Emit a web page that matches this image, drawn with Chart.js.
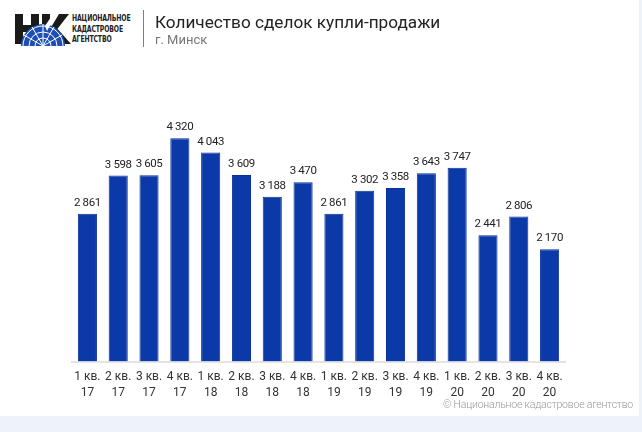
<!DOCTYPE html>
<html>
<head>
<meta charset="utf-8">
<script src="https://cdn.jsdelivr.net/npm/chart.js@4"></script>
<style>
  html, body { margin: 0; padding: 0; }
  body { width: 642px; height: 432px; background: #eef2fb; font-family: Roboto, "Noto Sans", sans-serif; position: relative; overflow: hidden; }
  #card { position: absolute; left: 0; top: 0; width: 639px; height: 416px; background: #fff; }
  #logo { position: absolute; left: 15px; top: 12px; }
  #logoText { position: absolute; left: 72px; top: 13px; font: bold 9px/10.5px "Liberation Sans Narrow", "DejaVu Sans Condensed", sans-serif; color: #222; letter-spacing: -0.2px; transform: scaleX(0.76); transform-origin: left top; }
  #sep { position: absolute; left: 143px; top: 10px; width: 1px; height: 37px; background: #5b82cf; }
  #title { position: absolute; left: 155px; top: 12px; font-size: 17.2px; color: #222; }
  #subtitle { position: absolute; left: 155px; top: 32px; font-size: 13px; color: #777; }
  #copy { position: absolute; right: 9px; top: 398px; font-size: 10.5px; font-weight: 300; color: #999; letter-spacing: -0.2px; }
  #wrap { position: absolute; left: 0; top: 0; width: 642px; height: 432px; }
</style>
</head>
<body>
<div id="card"></div>
<canvas id="logo" width="56" height="34"></canvas>
<div id="logoText">НАЦИОНАЛЬНОЕ<br>КАДАСТРОВОЕ<br>АГЕНТСТВО</div>
<div id="sep"></div>
<div id="title">Количество сделок купли-продажи</div>
<div id="subtitle">г. Минск</div>
<div id="wrap"><canvas id="chart"></canvas></div>
<div id="copy">© Национальное кадастровое агентство</div>
<script>
const quarters = ['1 кв.', '2 кв.', '3 кв.', '4 кв.', '1 кв.', '2 кв.', '3 кв.', '4 кв.',
                  '1 кв.', '2 кв.', '3 кв.', '4 кв.', '1 кв.', '2 кв.', '3 кв.', '4 кв.'];
const years = ['17', '17', '17', '17', '18', '18', '18', '18',
               '19', '19', '19', '19', '20', '20', '20', '20'];
const deals = [2861, 3598, 3605, 4320, 4043, 3609, 3188, 3470,
               2861, 3302, 3358, 3643, 3747, 2441, 2806, 2170];

// logo: blocky letters with a blue globe
const lg = document.getElementById('logo').getContext('2d');
lg.fillStyle = '#1a1a1a';
lg.fillRect(0, 2, 8, 30);
lg.fillRect(16, 2, 8, 30);
lg.fillRect(0, 13, 24, 7);
lg.fillRect(27, 2, 8, 30);
lg.beginPath(); lg.moveTo(35, 17); lg.lineTo(44, 2); lg.lineTo(54, 2); lg.lineTo(40, 20); lg.fill();
lg.beginPath(); lg.moveTo(40, 14); lg.lineTo(56, 32); lg.lineTo(46, 32); lg.lineTo(35, 20); lg.fill();
lg.fillStyle = '#1e4fb4';
lg.beginPath(); lg.arc(28, 34, 22, Math.PI, 2 * Math.PI); lg.fill();
lg.strokeStyle = '#fff'; lg.lineWidth = 1;
for (let r = 8; r <= 20; r += 6) { lg.beginPath(); lg.arc(28, 34, r, Math.PI, 2 * Math.PI); lg.stroke(); }
for (let a = 1; a < 6; a++) {
  lg.beginPath(); lg.moveTo(28, 34);
  lg.lineTo(28 + 22 * Math.cos(Math.PI + a * Math.PI / 6), 34 + 22 * Math.sin(Math.PI + a * Math.PI / 6)); lg.stroke();
}
lg.fillStyle = '#fff';
lg.beginPath(); lg.moveTo(30, 14); lg.lineTo(38, 2); lg.lineTo(40, 4); lg.lineTo(32, 19); lg.fill();

const fmt = v => String(v).replace(/\B(?=(\d{3})+(?!\d))/g, ' ');

const valueLabels = {
  id: 'valueLabels',
  afterDatasetsDraw(chart) {
    const ctx = chart.ctx;
    ctx.save();
    ctx.font = '11.5px Roboto';
    ctx.letterSpacing = '-0.4px';
    ctx.fillStyle = '#222';
    ctx.textAlign = 'center';
    ctx.textBaseline = 'bottom';
    chart.getDatasetMeta(0).data.forEach((bar, i) => {
      ctx.fillText(fmt(deals[i]), bar.x, bar.y - 5);
    });
    ctx.restore();
  }
};

new Chart(document.getElementById('chart'), {
  type: 'bar',
  data: {
    labels: quarters.map((q, i) => [q, years[i]]),
    datasets: [{
      data: deals,
      backgroundColor: '#0b3aa8',
      borderColor: '#0a3196',
      borderWidth: 1,
      barPercentage: 0.62,
      categoryPercentage: 1
    }]
  },
  options: {
    responsive: true,
    maintainAspectRatio: false,
    animation: false,
    layout: { padding: { left: 72, right: 77, top: 103, bottom: 24 } },
    plugins: { legend: { display: false }, tooltip: { enabled: false } },
    scales: {
      x: {
        grid: { display: false, drawTicks: false },
        border: { color: '#e4e4e4', width: 2 },
        ticks: { color: '#333', font: { size: 12, family: 'Roboto', lineHeight: 1.35 }, padding: 7, maxRotation: 0, autoSkip: false }
      },
      y: {
        display: false,
        min: 0,
        max: 5000
      }
    }
  },
  plugins: [valueLabels]
});
</script>
</body>
</html>
